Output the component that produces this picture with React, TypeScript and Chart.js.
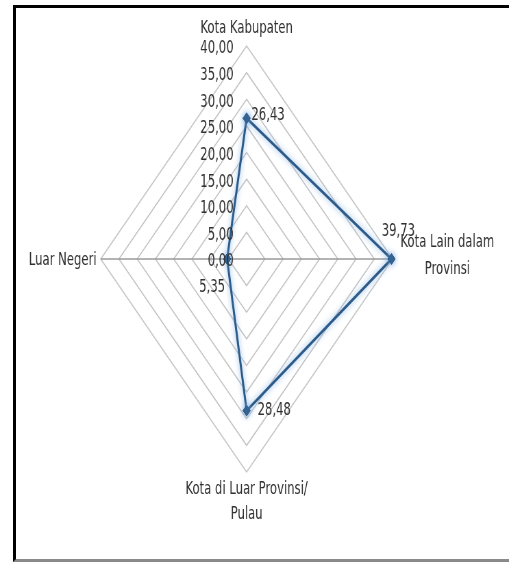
import React, { useEffect, useRef } from "react";
import { Chart, registerables } from "chart.js";

Chart.register(...registerables);

// ---- data ----
const categories: string[][] = [
  ["Kota Kabupaten"],
  ["Kota Lain dalam", "Provinsi"],
  ["Kota di Luar Provinsi/", "Pulau"],
  ["Luar Negeri"],
];
const values: number[] = [26.43, 39.73, 28.48, 5.35];
const scaleMin = 0;
const scaleMax = 40;
const scaleStep = 5;

// ---- layout / style ----
const SX = 0.685; // horizontal squeeze of the original picture
const CW = 743;
const CH = 563;
const FONT = '17px "DejaVu Sans"';
const TEXT = "#303030";
const LINE = "#2D5B89";

// offsets (pre-squeeze px) of the category labels from each spoke's outer end
const catOffsets = [
  { dx: 0, dy: [-17], align: "center" },
  { dx: 80, dy: [-16, 11], align: "center" },
  { dx: 0, dy: [18, 43], align: "center" },
  { dx: -6, dy: [2], align: "right" },
];
// offsets of the value labels from each point
const valOffsets = [
  { dx: 7, dy: -3, align: "left" },
  { dx: 10, dy: -27, align: "center" },
  { dx: 16, dy: 0, align: "left" },
  { dx: -3, dy: 29, align: "right" },
];

const fmt = (v: number) => v.toFixed(2).replace(".", ",");

const glowPlugin = {
  id: "glow",
  beforeDatasetsDraw(chart: any) {
    const ctx = chart.ctx;
    ctx.save();
    ctx.shadowColor = "rgba(120,170,225,0.9)";
    ctx.shadowBlur = 7;
  },
  afterDatasetsDraw(chart: any) {
    chart.ctx.restore();
  },
};

const labelPlugin = {
  id: "texts",
  afterDraw(chart: any) {
    const ctx = chart.ctx;
    const r = chart.scales.r;
    ctx.save();
    ctx.font = FONT;
    ctx.fillStyle = TEXT;
    ctx.textBaseline = "middle";
    // tick labels
    ctx.textAlign = "right";
    r.ticks.forEach((t: any) => {
      const d = r.getDistanceFromCenterForValue(t.value);
      ctx.fillText(fmt(t.value), r.xCenter - 19, r.yCenter - d + 3);
    });
    // category labels
    categories.forEach((lines, i) => {
      const p = r.getPointPosition(i, r.drawingArea);
      const o = catOffsets[i];
      ctx.textAlign = o.align;
      lines.forEach((ln, j) => ctx.fillText(ln, p.x + o.dx, p.y + o.dy[j]));
    });
    // value labels
    const meta = chart.getDatasetMeta(0);
    meta.data.forEach((pt: any, i: number) => {
      const o = valOffsets[i];
      ctx.textAlign = o.align;
      ctx.fillText(fmt(values[i]), pt.x + o.dx, pt.y + o.dy);
    });
    ctx.restore();
  },
};

export default function App() {
  const ref = useRef<HTMLCanvasElement | null>(null);

  useEffect(() => {
    if (!ref.current) return;
    document.body.style.overflow = "hidden";
    const spokeColors = ["rgba(0,0,0,0)", "#9a9a9a", "rgba(0,0,0,0)", "#9a9a9a"];
    const chart = new Chart(ref.current, {
      type: "radar",
      data: {
        labels: categories,
        datasets: [
          {
            data: values,
            borderColor: LINE,
            borderWidth: 3,
            backgroundColor: "rgba(0,0,0,0)",
            fill: false,
            tension: 0,
            pointStyle: "rectRot",
            pointRadius: 5.5,
            pointBackgroundColor: LINE,
            pointBorderColor: LINE,
            pointBorderWidth: 1,
          },
        ],
      },
      options: {
        responsive: false,
        animation: false,
        devicePixelRatio: 1,
        events: [],
        layout: { padding: { left: 147.6, right: 169.4, top: 46, bottom: 91 } },
        plugins: { legend: { display: false }, tooltip: { enabled: false } },
        scales: {
          r: {
            min: scaleMin,
            max: scaleMax,
            ticks: { stepSize: scaleStep, display: false },
            pointLabels: { display: false },
            grid: { circular: false, color: "#c4c4c4", lineWidth: 1.5 },
            angleLines: {
              display: true,
              color: (c: any) => spokeColors[c.index],
              lineWidth: 1.5,
            },
          },
        },
      },
      plugins: [glowPlugin, labelPlugin],
    } as any);
    return () => chart.destroy();
  }, []);

  return (
    <div
      style={{
        position: "absolute",
        left: 0,
        top: 0,
        width: 509,
        height: 563,
        overflow: "hidden",
        background: "#fff",
      }}
    >
      <div
        style={{
          position: "absolute",
          left: 13,
          top: 5,
          width: 496,
          height: 557,
          boxSizing: "border-box",
          borderLeft: "3px solid #000",
          borderTop: "3px solid #000",
          borderBottom: "3px solid #8a8a8a",
        }}
      />
      <canvas
        ref={ref}
        width={CW}
        height={CH}
        style={{
          position: "absolute",
          left: 0,
          top: 0,
          width: CW,
          height: CH,
          transform: `scaleX(${SX})`,
          transformOrigin: "0 0",
        }}
      />
    </div>
  );
}
